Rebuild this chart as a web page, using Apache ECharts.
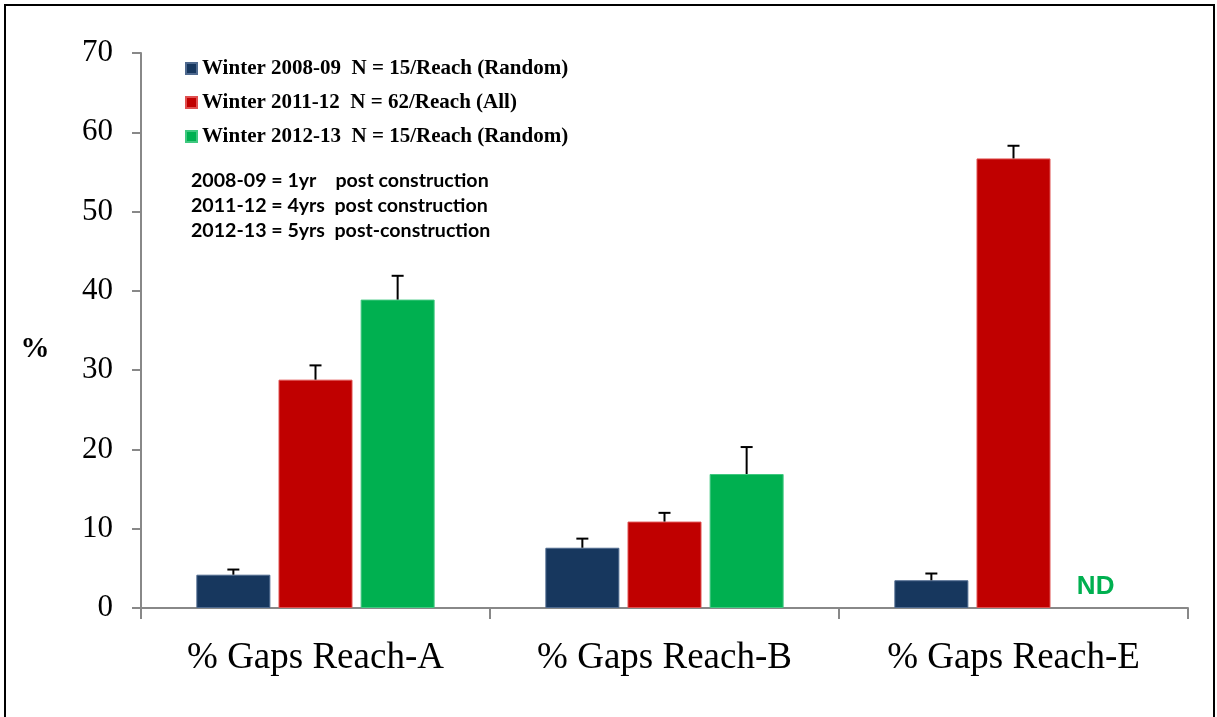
<!DOCTYPE html>
<html>
<head>
<meta charset="utf-8">
<script src="https://cdn.jsdelivr.net/npm/echarts@6/dist/echarts.min.js"></script>
<style>
html,body{margin:0;padding:0;background:#fff;}
#chart{width:1217px;height:717px;}
</style>
</head>
<body>
<div id="chart"></div>
<script>
// ---- data ----
const categories = ['% Gaps Reach-A', '% Gaps Reach-B', '% Gaps Reach-E'];
const seriesNames = [
  'Winter 2008-09  N = 15/Reach (Random)',
  'Winter 2011-12  N = 62/Reach (All)',
  'Winter 2012-13  N = 15/Reach (Random)'
];
const winter0809 = [4.2, 7.6, 3.5];
const winter1112 = [28.8, 10.9, 56.7];
const winter1213 = [38.9, 16.9, 0];
const err0809 = [0.65, 1.15, 0.85];
const err1112 = [1.8, 1.1, 1.6];
const err1213 = [3.0, 3.4, null];
const noData1213 = [false, false, true];
const yMin = 0, yMax = 70, yInterval = 10;
const yTitle = '%';
const notes = [
  '2008-09 = 1yr    post construction',
  '2011-12 = 4yrs  post construction',
  '2012-13 = 5yrs  post-construction'
];

// ---- styles ----
const colors = ['#17375E', '#C00000', '#00B050'];
const borderColors = ['#4F6A8F', '#E05050', '#40C880'];
const barWidth = 74;
const barGapRatio = 0.11;
const serif = '"Liberation Serif", "Times New Roman", serif';
const sans = 'Lato, "Liberation Sans", Arial, sans-serif';

const values = [winter0809, winter1112, winter1213];
const errs = [err0809, err1112, err1213];

const chart = echarts.init(document.getElementById('chart'));

const series = [];
values.forEach((vals, si) => {
  series.push({
    name: seriesNames[si],
    type: 'bar',
    barWidth: barWidth,
    barGap: (barGapRatio * 100) + '%',
    itemStyle: { color: colors[si], borderColor: borderColors[si], borderWidth: 1 },
    emphasis: { disabled: true },
    data: vals.map((v, ci) => {
      if (si === 2 && noData1213[ci]) {
        return {
          value: v,
          itemStyle: { borderWidth: 0 },
          label: {
            show: true, position: 'top', distance: 8,
            formatter: 'ND', color: '#00B050',
            fontFamily: '"Liberation Sans", Arial, sans-serif',
            fontWeight: 'bold', fontSize: 26
          }
        };
      }
      return v;
    })
  });
});

const offsetStep = barWidth * (1 + barGapRatio);
errs.forEach((er, si) => {
  const data = [];
  er.forEach((e, ci) => { if (e != null) data.push([ci, values[si][ci], e]); });
  series.push({
    type: 'custom',
    silent: true,
    z: 5,
    data: data,
    renderItem: function (params, api) {
      const off = (si - 1) * offsetStep;
      const base = api.coord([api.value(0), api.value(1)]);
      const top = api.coord([api.value(0), api.value(1) + api.value(2)]);
      const x = base[0] + off;
      const half = 6;
      return {
        type: 'group',
        children: [
          { type: 'line', shape: { x1: x, y1: base[1], x2: x, y2: top[1] }, style: { stroke: '#000', lineWidth: 2 } },
          { type: 'line', shape: { x1: x - half, y1: top[1], x2: x + half, y2: top[1] }, style: { stroke: '#000', lineWidth: 2 } }
        ]
      };
    }
  });
});

const graphics = [
  { type: 'rect', shape: { x: 5, y: 5, width: 1209, height: 730 }, style: { fill: 'none', stroke: '#000', lineWidth: 2 }, silent: true },
  { type: 'text', x: 35, y: 350, style: { text: yTitle, fill: '#000', font: 'bold 29px ' + serif, textAlign: 'center', textVerticalAlign: 'middle' } }
];
notes.forEach((t, i) => {
  graphics.push({
    type: 'text', x: 191, y: 181 + i * 25,
    style: { text: t, fill: '#000', font: 'bold 19.6px ' + sans, textVerticalAlign: 'middle' }
  });
});

chart.setOption({
  animation: false,
  backgroundColor: '#fff',
  color: colors,
  grid: { left: 141, right: 29, top: 53, bottom: 109, containLabel: false },
  legend: {
    data: seriesNames,
    orient: 'vertical',
    left: 180, top: 53,
    itemWidth: 11, itemHeight: 11, itemGap: 13,
    icon: 'rect',
    selectedMode: false,
    textStyle: { fontFamily: serif, fontWeight: 'bold', fontSize: 21, color: '#000' }
  },
  xAxis: {
    type: 'category',
    data: categories,
    axisLine: { lineStyle: { color: '#888', width: 2 } },
    axisTick: { show: true, length: 11, lineStyle: { color: '#888', width: 2 } },
    axisLabel: { fontFamily: serif, fontSize: 37, color: '#000', margin: 32 }
  },
  yAxis: {
    type: 'value',
    min: yMin, max: yMax, interval: yInterval,
    axisLine: { show: true, lineStyle: { color: '#888', width: 2 } },
    axisTick: { show: true, length: 9, lineStyle: { color: '#888', width: 2 } },
    splitLine: { show: false },
    axisLabel: { fontFamily: serif, fontSize: 31, color: '#000', margin: 28 }
  },
  series: series,
  graphic: graphics
});
</script>
</body>
</html>
